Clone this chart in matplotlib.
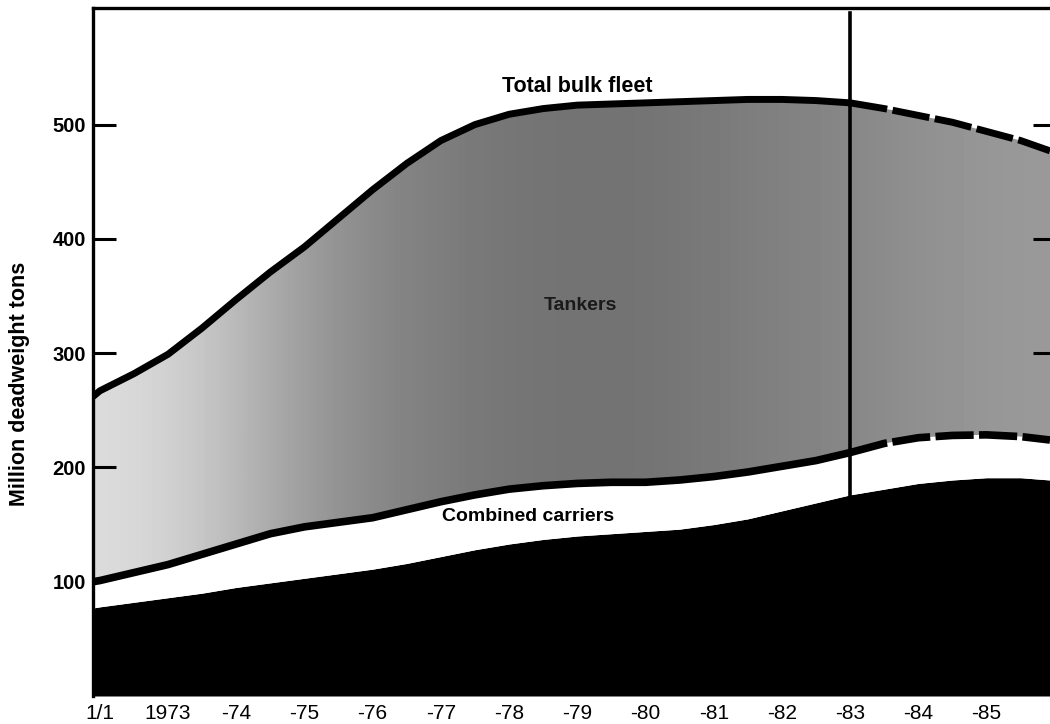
import matplotlib
matplotlib.use("Agg")
import matplotlib.pyplot as plt
import numpy as np

plt.rcParams["font.family"] = ["Liberation Sans", "DejaVu Sans"]

# time axis in label slots (0 = "1/1", 1 = "1973", ..., 13 = "-85")
t = [-0.1, 0, 0.5, 1, 1.5, 2, 2.5, 3, 3.5, 4, 4.5, 5, 5.5, 6, 6.5, 7, 7.5,
     8, 8.5, 9, 9.5, 10, 10.5, 11, 11.5, 12, 12.5, 13, 13.5, 13.93]

# million dwt (cumulative levels)
total_fleet = [262, 267, 282, 299, 322, 347, 371, 393, 418, 443, 466, 486, 500, 509, 514,
               517, 518, 519, 520, 521, 522, 522, 521, 519, 514, 508, 502, 494, 486, 477]
tank_floor = [100, 101, 108, 115, 124, 133, 142, 148, 152, 156, 163, 170, 176, 181, 184,
              186, 187, 187, 189, 192, 196, 201, 206, 213, 221, 226, 228, 228.5, 227, 224]
dry_bulk = [77, 78, 82, 86, 90, 95, 99, 103, 107, 111, 116, 122, 128, 133, 137,
            140, 142, 144, 146, 150, 155, 162, 169, 176, 181, 186, 189, 191, 191, 189]

tick_labels = ["1/1", "1973", "-74", "-75", "-76", "-77", "-78", "-79", "-80",
               "-81", "-82", "-83", "-84", "-85"]
y_ticks = [100, 200, 300, 400, 500]
split = 11  # 1/1 1983, actual -> forecast

x = np.array(t)
top = np.array(total_fleet)
mid = np.array(tank_floor)
low = np.array(dry_bulk)

fig = plt.figure(figsize=(10.5, 7.24), dpi=100)
ax = fig.add_axes([93 / 1050, 28 / 724, 957 / 1050, 688 / 724])
ax.set_xlim(-0.1, 13.93)
ax.set_ylim(0, 602)

# dry bulk (black), combined carriers (white), tankers (shaded)
ax.fill_between(x, 0, low, color="black", lw=0, zorder=2)
ax.fill_between(x, low, mid, color="white", lw=0, zorder=2)
tank = ax.fill_between(x, mid, top, facecolor="none", edgecolor="none", lw=0)

grad = np.array([[0.86, 0.80, 0.70, 0.60, 0.53, 0.49, 0.46, 0.45, 0.45,
                  0.47, 0.50, 0.52, 0.55, 0.58, 0.60]])
img = ax.imshow(grad, cmap="gray", vmin=0, vmax=1, aspect="auto",
                extent=(-0.1, 13.93, 0, 602), interpolation="bicubic", zorder=1)
img.set_clip_path(tank.get_paths()[0], transform=ax.transData)

# boundary lines: solid up to 1983, dashed afterwards
hist = x <= split
fut = x >= split
ax.plot(x[hist], top[hist], color="black", lw=5, solid_capstyle="butt", zorder=4)
ax.plot(x[hist], mid[hist], color="black", lw=5.5, solid_capstyle="butt", zorder=4)
ax.plot(x[fut], top[fut], color="black", lw=5, dashes=(5.4, 0.8),
        dash_capstyle="butt", zorder=4)
ax.plot(x[fut], mid[fut], color="black", lw=5.5, dashes=(5.0, 0.7),
        dash_capstyle="butt", zorder=4)
ax.plot([split, split], [0, 598], color="black", lw=2.6, zorder=5)

ax.text(7.0, 533, "Total bulk fleet", ha="center", va="center",
        fontsize=15.5, fontweight="bold", zorder=6)
ax.text(6.28, 157, "Combined carriers", ha="center", va="center",
        fontsize=14, fontweight="bold", zorder=6)
ax.text(7.05, 342, "Tankers", ha="center", va="center",
        fontsize=14, fontweight="bold", color="#1a1a1a", zorder=6)

ax.set_xticks(range(len(tick_labels)))
ax.set_xticklabels(tick_labels)
ax.tick_params(axis="x", length=0, pad=6, labelsize=15)
ax.set_yticks(y_ticks)
ax.tick_params(axis="y", direction="in", length=16.5, width=2.2, pad=5,
               labelsize=14.5, right=True)
for lab in ax.get_yticklabels():
    lab.set_fontweight("bold")
for tk in ax.yaxis.get_major_ticks():
    tk.tick2line.set_markersize(12)

for side in ["right", "bottom"]:
    ax.spines[side].set_visible(False)
for side in ["left", "top"]:
    ax.spines[side].set_linewidth(2.4)

fig.text(20 / 1050, 1 - 384 / 724, "Million deadweight tons", rotation=90,
         ha="center", va="center", fontsize=15.5, fontweight="bold")

fig.savefig("out.png", dpi=100)
